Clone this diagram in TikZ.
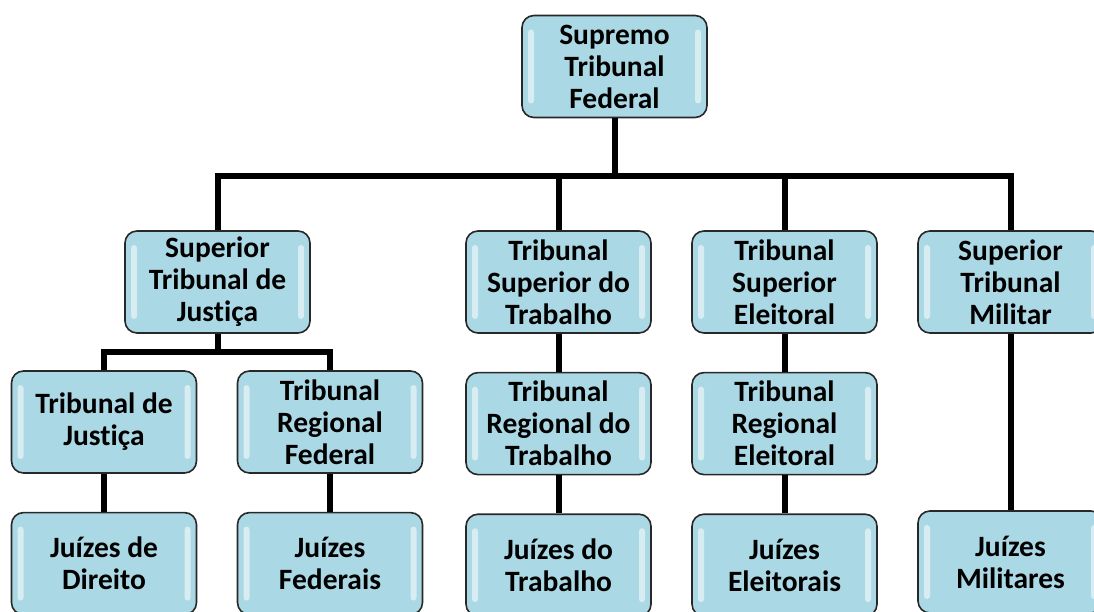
\documentclass[tikz,border=0pt]{standalone}
\usepackage{fontspec}
\setmainfont{Carlito}[Ligatures={NoCommon}]
\usetikzlibrary{positioning}
\definecolor{boxblue}{RGB}{170,216,228}
\definecolor{boxline}{RGB}{40,40,40}
\tikzset{
	court/.style={
		rectangle, rounded corners=12pt, draw=boxline, line width=1.6pt,
		fill=boxblue, minimum width=185pt, minimum height=102pt,
		align=center, inner sep=2pt,
		font=\fontsize{29.5}{32}\selectfont\bfseries,
		path picture={
			\fill[white, opacity=0.55, rounded corners=3pt]
				([xshift=6pt,yshift=-14pt]path picture bounding box.north west) rectangle
				([xshift=12pt,yshift=14pt]path picture bounding box.south west);
			\fill[white, opacity=0.55, rounded corners=3pt]
				([xshift=-12pt,yshift=-14pt]path picture bounding box.north east) rectangle
				([xshift=-6pt,yshift=14pt]path picture bounding box.south east);
		}
	},
	link/.style={line width=6pt, black}
}
\begin{document}
\begin{tikzpicture}[x=1pt, y=-1pt, node distance=38pt]
	\useasboundingbox (0,0) rectangle (1094,612);
	% top
	\node [court] (stf) at (614.5,66.5) {Supremo\\Tribunal\\Federal};
	% superior courts
	\node [court] (stj) at (217.5,282) {Superior\\Tribunal de\\Justiça};
	\node [court] (tst) at (558.5,282) {Tribunal\\Superior do\\Trabalho};
	\node [court] (tse) at (784.5,282) {Tribunal\\Superior\\Eleitoral};
	\node [court] (stm) at (1010.5,282) {Superior\\Tribunal\\Militar};
	% second instance
	\node [court] (tj) at (104,422) {Tribunal de\\Justiça};
	\node [court] (trf) at (330,422) {Tribunal\\Regional\\Federal};
	\node [court, below=of tst] (trt) {Tribunal\\Regional do\\Trabalho};
	\node [court, below=of tse] (tre) {Tribunal\\Regional\\Eleitoral};
	% judges
	\node [court, below=of tj] (jd) {Juízes de\\Direito};
	\node [court, below=of trf] (jf) {Juízes\\Federais};
	\node [court, below=of trt] (jt) {Juízes do\\Trabalho};
	\node [court, below=of tre] (je) {Juízes\\Eleitorais};
	\node [court] (jm) at (1010.5,562) {Juízes\\Militares};

	\coordinate (bar) at (614.5,176);
	\coordinate (stjbar) at (217.5,352);

	\draw [link] (stf) -- (bar);
	\draw [link] (stj) |- (bar) -| (stm);
	\draw [link] (tst.north) -- (tst.north |- bar);
	\draw [link] (tse.north) -- (tse.north |- bar);

	\draw [link] (stj) -- (stjbar);
	\draw [link] (tj) |- (stjbar) -| (trf);

	\draw [link] (tj) -- (jd);
	\draw [link] (trf) -- (jf);
	\draw [link] (tst) -- (trt) -- (jt);
	\draw [link] (tse) -- (tre) -- (je);
	\draw [link] (stm) -- (jm);
\end{tikzpicture}
\end{document}
